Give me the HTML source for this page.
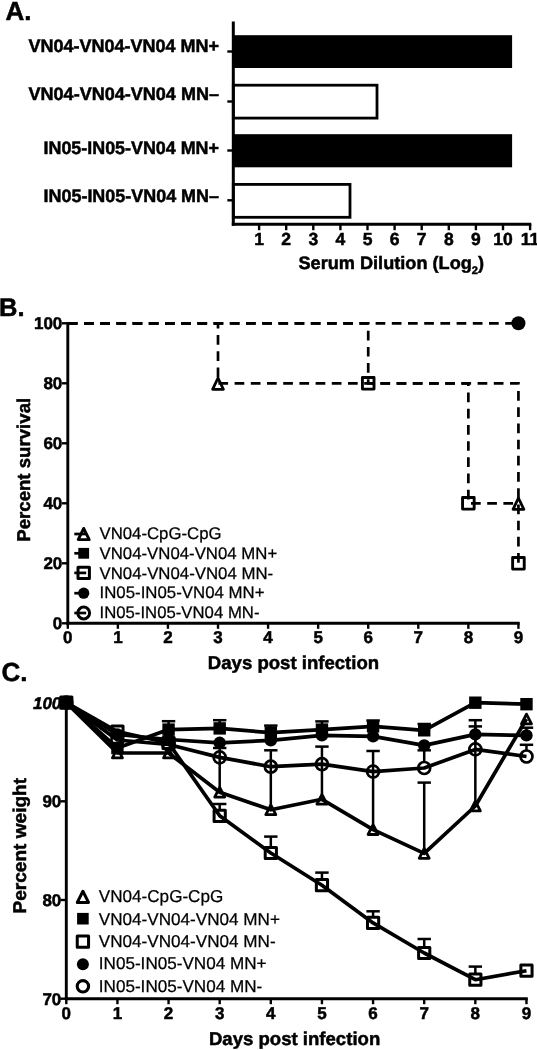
<!DOCTYPE html>
<html><head><meta charset="utf-8"><title>Figure</title>
<style>
html,body{margin:0;padding:0;background:#fff;}
body{width:537px;height:1050px;overflow:hidden;font-family:"Liberation Sans",sans-serif;}
svg{display:block;will-change:transform;filter:grayscale(1);}
text{text-rendering:geometricPrecision;}
</style></head>
<body>
<svg width="537" height="1050" viewBox="0 0 537 1050">
<rect width="537" height="1050" fill="#fff"/>
<g id="A" stroke="#000" fill="#000">
<rect x="233.3" y="35.2" width="278.8" height="32.8" stroke="none"/>
<rect x="233.3" y="134.2" width="278.8" height="33.1" stroke="none"/>
<rect x="233.3" y="85.2" width="143.7" height="32.9" fill="#fff" stroke-width="2.8"/>
<rect x="233.3" y="184.4" width="116.69999999999999" height="32.9" fill="#fff" stroke-width="2.8"/>
<line x1="233.30" y1="21.50" x2="233.30" y2="225.70" stroke-width="3.0" />
<line x1="231.80" y1="224.20" x2="531.30" y2="224.20" stroke-width="3.0" />
<line x1="259.10" y1="224.20" x2="259.10" y2="230.20" stroke-width="2.4" />
<line x1="286.20" y1="224.20" x2="286.20" y2="230.20" stroke-width="2.4" />
<line x1="313.30" y1="224.20" x2="313.30" y2="230.20" stroke-width="2.4" />
<line x1="340.40" y1="224.20" x2="340.40" y2="230.20" stroke-width="2.4" />
<line x1="367.50" y1="224.20" x2="367.50" y2="230.20" stroke-width="2.4" />
<line x1="394.60" y1="224.20" x2="394.60" y2="230.20" stroke-width="2.4" />
<line x1="421.70" y1="224.20" x2="421.70" y2="230.20" stroke-width="2.4" />
<line x1="448.80" y1="224.20" x2="448.80" y2="230.20" stroke-width="2.4" />
<line x1="475.90" y1="224.20" x2="475.90" y2="230.20" stroke-width="2.4" />
<line x1="503.00" y1="224.20" x2="503.00" y2="230.20" stroke-width="2.4" />
<line x1="530.10" y1="224.20" x2="530.10" y2="230.20" stroke-width="2.4" />
<line x1="227.30" y1="51.50" x2="233.30" y2="51.50" stroke-width="2.4" />
<line x1="227.30" y1="101.50" x2="233.30" y2="101.50" stroke-width="2.4" />
<line x1="227.30" y1="150.50" x2="233.30" y2="150.50" stroke-width="2.4" />
<line x1="227.30" y1="200.30" x2="233.30" y2="200.30" stroke-width="2.4" />
</g>
<g id="At" font-family="Liberation Sans, sans-serif" fill="#000" stroke="#000" stroke-width="0.5">
<text x="5.5" y="19.8" font-size="26" font-weight="bold" text-anchor="start" >A.</text>
<text x="219" y="51.9" font-size="18" font-weight="bold" text-anchor="end" textLength="190.5" lengthAdjust="spacingAndGlyphs" >VN04-VN04-VN04 MN+</text>
<text x="219" y="100.1" font-size="18" font-weight="bold" text-anchor="end" textLength="190.5" lengthAdjust="spacingAndGlyphs" >VN04-VN04-VN04 MN–</text>
<text x="219" y="154.2" font-size="18" font-weight="bold" text-anchor="end" textLength="175.5" lengthAdjust="spacingAndGlyphs" >IN05-IN05-VN04 MN+</text>
<text x="219" y="202.4" font-size="18" font-weight="bold" text-anchor="end" textLength="175.5" lengthAdjust="spacingAndGlyphs" >IN05-IN05-VN04 MN–</text>
<text x="259.1" y="244.6" font-size="17.5" font-weight="bold" text-anchor="middle" >1</text>
<text x="286.2" y="244.6" font-size="17.5" font-weight="bold" text-anchor="middle" >2</text>
<text x="313.3" y="244.6" font-size="17.5" font-weight="bold" text-anchor="middle" >3</text>
<text x="340.4" y="244.6" font-size="17.5" font-weight="bold" text-anchor="middle" >4</text>
<text x="367.5" y="244.6" font-size="17.5" font-weight="bold" text-anchor="middle" >5</text>
<text x="394.6" y="244.6" font-size="17.5" font-weight="bold" text-anchor="middle" >6</text>
<text x="421.70000000000005" y="244.6" font-size="17.5" font-weight="bold" text-anchor="middle" >7</text>
<text x="448.8" y="244.6" font-size="17.5" font-weight="bold" text-anchor="middle" >8</text>
<text x="475.9" y="244.6" font-size="17.5" font-weight="bold" text-anchor="middle" >9</text>
<text x="503.0" y="244.6" font-size="17.5" font-weight="bold" text-anchor="middle" >10</text>
<text x="530.1" y="244.6" font-size="17.5" font-weight="bold" text-anchor="middle" >11</text>
<text x="298.5" y="268.6" font-size="18" font-weight="bold" textLength="185.5" lengthAdjust="spacingAndGlyphs">Serum Dilution (Log<tspan font-size="11" dy="5">2</tspan><tspan dy="-5">)</tspan></text>
</g>
<g id="B" stroke="#000" fill="none">
<line x1="67.80" y1="322.00" x2="67.80" y2="624.70" stroke-width="2.9" />
<line x1="66.40" y1="623.30" x2="519.73" y2="623.30" stroke-width="2.9" />
<line x1="67.80" y1="623.30" x2="67.80" y2="628.80" stroke-width="2.4" />
<line x1="117.87" y1="623.30" x2="117.87" y2="628.80" stroke-width="2.4" />
<line x1="167.94" y1="623.30" x2="167.94" y2="628.80" stroke-width="2.4" />
<line x1="218.01" y1="623.30" x2="218.01" y2="628.80" stroke-width="2.4" />
<line x1="268.08" y1="623.30" x2="268.08" y2="628.80" stroke-width="2.4" />
<line x1="318.15" y1="623.30" x2="318.15" y2="628.80" stroke-width="2.4" />
<line x1="368.22" y1="623.30" x2="368.22" y2="628.80" stroke-width="2.4" />
<line x1="418.29" y1="623.30" x2="418.29" y2="628.80" stroke-width="2.4" />
<line x1="468.36" y1="623.30" x2="468.36" y2="628.80" stroke-width="2.4" />
<line x1="518.43" y1="623.30" x2="518.43" y2="628.80" stroke-width="2.4" />
<line x1="61.80" y1="623.30" x2="67.80" y2="623.30" stroke-width="2.4" />
<line x1="61.80" y1="563.30" x2="67.80" y2="563.30" stroke-width="2.4" />
<line x1="61.80" y1="503.30" x2="67.80" y2="503.30" stroke-width="2.4" />
<line x1="61.80" y1="443.30" x2="67.80" y2="443.30" stroke-width="2.4" />
<line x1="61.80" y1="383.30" x2="67.80" y2="383.30" stroke-width="2.4" />
<line x1="61.80" y1="323.30" x2="67.80" y2="323.30" stroke-width="2.4" />
<path d="M218.01 378.00 L223.41 389.30 L212.61 389.30 Z" fill="#fff" stroke-width="2.8" stroke-linejoin="round"/>
<rect x="362.42" y="377.50" width="11.6" height="11.6" fill="#fff" stroke-width="2.9" stroke-linejoin="round"/>
<rect x="462.56" y="497.50" width="11.6" height="11.6" fill="#fff" stroke-width="2.9" stroke-linejoin="round"/>
<rect x="512.63" y="557.50" width="11.6" height="11.6" fill="#fff" stroke-width="2.9" stroke-linejoin="round"/>
<path d="M518.43 498.00 L523.83 509.30 L513.03 509.30 Z" fill="#fff" stroke-width="2.8" stroke-linejoin="round"/>
<path d="M67.80 323.30 L518.43 323.30" stroke-dasharray="9.7 6.5" stroke-width="2.7" stroke-linejoin="miter" />
<path d="M67.80 323.30 L218.01 323.30 L218.01 383.30 L518.43 383.30 L518.43 503.30" stroke-dasharray="9.7 6.5" stroke-width="2.7" stroke-linejoin="miter" />
<path d="M67.80 323.30 L368.22 323.30 L368.22 383.30 L468.36 383.30 L468.36 503.30 L518.43 503.30 L518.43 563.30" stroke-dasharray="9.7 6.5" stroke-width="2.7" stroke-linejoin="miter" />
<circle cx="518.43" cy="323.30" r="7" fill="#000" stroke-width="0"/>
<path d="M83.70 528.40 L89.20 539.60 L78.20 539.60 Z" fill="#fff" stroke-width="2.9" stroke-linejoin="round"/>
<rect x="78.30" y="547.90" width="10.8" height="10.8" fill="#000" stroke-width="0" stroke-linejoin="round"/>
<rect x="78.00" y="567.20" width="11.4" height="11.4" fill="#fff" stroke-width="3.0" stroke-linejoin="round"/>
<circle cx="83.70" cy="593.20" r="5.6" fill="#000" stroke-width="0"/>
<circle cx="83.70" cy="613.00" r="5.9" fill="#fff" stroke-width="3.0"/>
<line x1="74.30" y1="534.00" x2="86.20" y2="534.00" stroke-width="2.7" />
<line x1="74.30" y1="553.30" x2="86.20" y2="553.30" stroke-width="2.7" />
<line x1="74.30" y1="572.90" x2="86.20" y2="572.90" stroke-width="2.7" />
<line x1="74.30" y1="593.20" x2="86.20" y2="593.20" stroke-width="2.7" />
<line x1="74.30" y1="613.00" x2="86.20" y2="613.00" stroke-width="2.7" />
</g>
<g id="Bt" font-family="Liberation Sans, sans-serif" fill="#000" stroke="#000" stroke-width="0.5">
<text x="-1" y="315.9" font-size="25.5" font-weight="bold" text-anchor="start" >B.</text>
<text x="62.3" y="629.3" font-size="17" font-weight="bold" text-anchor="end" >0</text>
<text x="62.3" y="569.3" font-size="17" font-weight="bold" text-anchor="end" >20</text>
<text x="62.3" y="509.29999999999995" font-size="17" font-weight="bold" text-anchor="end" >40</text>
<text x="62.3" y="449.29999999999995" font-size="17" font-weight="bold" text-anchor="end" >60</text>
<text x="62.3" y="389.29999999999995" font-size="17" font-weight="bold" text-anchor="end" >80</text>
<text x="62.3" y="329.29999999999995" font-size="17" font-weight="bold" text-anchor="end" >100</text>
<text x="67.8" y="643.2" font-size="17" font-weight="bold" text-anchor="middle" >0</text>
<text x="117.87" y="643.2" font-size="17" font-weight="bold" text-anchor="middle" >1</text>
<text x="167.94" y="643.2" font-size="17" font-weight="bold" text-anchor="middle" >2</text>
<text x="218.01" y="643.2" font-size="17" font-weight="bold" text-anchor="middle" >3</text>
<text x="268.08" y="643.2" font-size="17" font-weight="bold" text-anchor="middle" >4</text>
<text x="318.15" y="643.2" font-size="17" font-weight="bold" text-anchor="middle" >5</text>
<text x="368.22" y="643.2" font-size="17" font-weight="bold" text-anchor="middle" >6</text>
<text x="418.29" y="643.2" font-size="17" font-weight="bold" text-anchor="middle" >7</text>
<text x="468.36" y="643.2" font-size="17" font-weight="bold" text-anchor="middle" >8</text>
<text x="518.43" y="643.2" font-size="17" font-weight="bold" text-anchor="middle" >9</text>
<text x="293.5" y="669.3" font-size="18.5" font-weight="bold" text-anchor="middle" textLength="171.3" lengthAdjust="spacingAndGlyphs" >Days post infection</text>
<text transform="translate(29.8,469.8) rotate(-90)" font-size="18.5" font-weight="bold" text-anchor="middle" textLength="144" lengthAdjust="spacingAndGlyphs">Percent survival</text>
<text x="99.5" y="539.2" font-size="16.8" font-weight="normal" text-anchor="start" textLength="122" lengthAdjust="spacingAndGlyphs" stroke-width="0.25">VN04-CpG-CpG</text>
<text x="99.5" y="558.8" font-size="16.8" font-weight="normal" text-anchor="start" textLength="177.7" lengthAdjust="spacingAndGlyphs" stroke-width="0.25">VN04-VN04-VN04 MN+</text>
<text x="99.5" y="578.8" font-size="16.8" font-weight="normal" text-anchor="start" textLength="173.7" lengthAdjust="spacingAndGlyphs" stroke-width="0.25">VN04-VN04-VN04 MN-</text>
<text x="99.5" y="598.2" font-size="16.8" font-weight="normal" text-anchor="start" textLength="165" lengthAdjust="spacingAndGlyphs" stroke-width="0.25">IN05-IN05-VN04 MN+</text>
<text x="99.5" y="617.8" font-size="16.8" font-weight="normal" text-anchor="start" textLength="160" lengthAdjust="spacingAndGlyphs" stroke-width="0.25">IN05-IN05-VN04 MN-</text>
</g>
<g id="C" stroke="#000" fill="none">
<line x1="66.30" y1="701.30" x2="66.30" y2="1000.10" stroke-width="2.9" />
<line x1="64.90" y1="998.70" x2="527.77" y2="998.70" stroke-width="2.9" />
<line x1="66.30" y1="998.70" x2="66.30" y2="1004.20" stroke-width="2.4" />
<line x1="117.43" y1="998.70" x2="117.43" y2="1004.20" stroke-width="2.4" />
<line x1="168.56" y1="998.70" x2="168.56" y2="1004.20" stroke-width="2.4" />
<line x1="219.69" y1="998.70" x2="219.69" y2="1004.20" stroke-width="2.4" />
<line x1="270.82" y1="998.70" x2="270.82" y2="1004.20" stroke-width="2.4" />
<line x1="321.95" y1="998.70" x2="321.95" y2="1004.20" stroke-width="2.4" />
<line x1="373.08" y1="998.70" x2="373.08" y2="1004.20" stroke-width="2.4" />
<line x1="424.21" y1="998.70" x2="424.21" y2="1004.20" stroke-width="2.4" />
<line x1="475.34" y1="998.70" x2="475.34" y2="1004.20" stroke-width="2.4" />
<line x1="526.47" y1="998.70" x2="526.47" y2="1004.20" stroke-width="2.4" />
<line x1="60.30" y1="998.70" x2="66.30" y2="998.70" stroke-width="2.4" />
<line x1="60.30" y1="900.00" x2="66.30" y2="900.00" stroke-width="2.4" />
<line x1="60.30" y1="801.30" x2="66.30" y2="801.30" stroke-width="2.4" />
<line x1="60.30" y1="702.60" x2="66.30" y2="702.60" stroke-width="2.4" />
<line x1="219.69" y1="786.90" x2="219.69" y2="748.00" stroke-width="2.5" />
<line x1="212.99" y1="748.00" x2="226.39" y2="748.00" stroke-width="2.5" />
<line x1="270.82" y1="804.50" x2="270.82" y2="750.30" stroke-width="2.5" />
<line x1="264.12" y1="750.30" x2="277.52" y2="750.30" stroke-width="2.5" />
<line x1="321.95" y1="794.00" x2="321.95" y2="746.60" stroke-width="2.5" />
<line x1="315.25" y1="746.60" x2="328.65" y2="746.60" stroke-width="2.5" />
<line x1="373.08" y1="824.30" x2="373.08" y2="751.00" stroke-width="2.5" />
<line x1="366.38" y1="751.00" x2="379.78" y2="751.00" stroke-width="2.5" />
<line x1="424.21" y1="848.10" x2="424.21" y2="782.60" stroke-width="2.5" />
<line x1="417.51" y1="782.60" x2="430.91" y2="782.60" stroke-width="2.5" />
<line x1="475.34" y1="800.70" x2="475.34" y2="720.20" stroke-width="2.5" />
<line x1="468.64" y1="720.20" x2="482.04" y2="720.20" stroke-width="2.5" />
<path d="M66.30 702.60 L117.43 753.00 L168.56 753.00 L219.69 792.20 L270.82 809.80 L321.95 799.30 L373.08 829.60 L424.21 853.40 L475.34 806.00 L526.47 719.00" stroke-width="3.7" stroke-linejoin="round"/>
<path d="M66.30 697.69 L71.30 707.51 L61.30 707.51 Z" fill="none" stroke-width="2.8" stroke-linejoin="round"/>
<path d="M117.43 748.09 L122.43 757.91 L112.43 757.91 Z" fill="none" stroke-width="2.8" stroke-linejoin="round"/>
<path d="M168.56 748.09 L173.56 757.91 L163.56 757.91 Z" fill="none" stroke-width="2.8" stroke-linejoin="round"/>
<path d="M219.69 787.29 L224.69 797.11 L214.69 797.11 Z" fill="none" stroke-width="2.8" stroke-linejoin="round"/>
<path d="M270.82 804.89 L275.82 814.71 L265.82 814.71 Z" fill="none" stroke-width="2.8" stroke-linejoin="round"/>
<path d="M321.95 794.39 L326.95 804.21 L316.95 804.21 Z" fill="none" stroke-width="2.8" stroke-linejoin="round"/>
<path d="M373.08 824.69 L378.08 834.51 L368.08 834.51 Z" fill="none" stroke-width="2.8" stroke-linejoin="round"/>
<path d="M424.21 848.49 L429.21 858.31 L419.21 858.31 Z" fill="none" stroke-width="2.8" stroke-linejoin="round"/>
<path d="M475.34 801.09 L480.34 810.91 L470.34 810.91 Z" fill="none" stroke-width="2.8" stroke-linejoin="round"/>
<path d="M526.47 714.09 L531.47 723.91 L521.47 723.91 Z" fill="none" stroke-width="2.8" stroke-linejoin="round"/>
<line x1="168.56" y1="729.60" x2="168.56" y2="721.20" stroke-width="2.5" />
<line x1="161.86" y1="721.20" x2="175.26" y2="721.20" stroke-width="2.5" />
<line x1="219.69" y1="728.40" x2="219.69" y2="720.20" stroke-width="2.5" />
<line x1="212.99" y1="720.20" x2="226.39" y2="720.20" stroke-width="2.5" />
<line x1="270.82" y1="732.70" x2="270.82" y2="725.60" stroke-width="2.5" />
<line x1="264.12" y1="725.60" x2="277.52" y2="725.60" stroke-width="2.5" />
<line x1="321.95" y1="729.60" x2="321.95" y2="721.40" stroke-width="2.5" />
<line x1="315.25" y1="721.40" x2="328.65" y2="721.40" stroke-width="2.5" />
<line x1="373.08" y1="726.30" x2="373.08" y2="720.50" stroke-width="2.5" />
<line x1="366.38" y1="720.50" x2="379.78" y2="720.50" stroke-width="2.5" />
<line x1="424.21" y1="730.30" x2="424.21" y2="724.00" stroke-width="2.5" />
<line x1="417.51" y1="724.00" x2="430.91" y2="724.00" stroke-width="2.5" />
<path d="M66.30 702.60 L117.43 748.00 L168.56 729.60 L219.69 728.40 L270.82 732.70 L321.95 729.60 L373.08 726.30 L424.21 730.30 L475.34 702.70 L526.47 704.20" stroke-width="3.7" stroke-linejoin="round"/>
<rect x="60.10" y="696.40" width="12.4" height="12.4" fill="#000" stroke-width="0" stroke-linejoin="round"/>
<rect x="111.23" y="741.80" width="12.4" height="12.4" fill="#000" stroke-width="0" stroke-linejoin="round"/>
<rect x="162.36" y="723.40" width="12.4" height="12.4" fill="#000" stroke-width="0" stroke-linejoin="round"/>
<rect x="213.49" y="722.20" width="12.4" height="12.4" fill="#000" stroke-width="0" stroke-linejoin="round"/>
<rect x="264.62" y="726.50" width="12.4" height="12.4" fill="#000" stroke-width="0" stroke-linejoin="round"/>
<rect x="315.75" y="723.40" width="12.4" height="12.4" fill="#000" stroke-width="0" stroke-linejoin="round"/>
<rect x="366.88" y="720.10" width="12.4" height="12.4" fill="#000" stroke-width="0" stroke-linejoin="round"/>
<rect x="418.01" y="724.10" width="12.4" height="12.4" fill="#000" stroke-width="0" stroke-linejoin="round"/>
<rect x="469.14" y="696.50" width="12.4" height="12.4" fill="#000" stroke-width="0" stroke-linejoin="round"/>
<rect x="520.27" y="698.00" width="12.4" height="12.4" fill="#000" stroke-width="0" stroke-linejoin="round"/>
<line x1="219.69" y1="810.20" x2="219.69" y2="804.00" stroke-width="2.5" />
<line x1="212.99" y1="804.00" x2="226.39" y2="804.00" stroke-width="2.5" />
<line x1="270.82" y1="847.40" x2="270.82" y2="836.60" stroke-width="2.5" />
<line x1="264.12" y1="836.60" x2="277.52" y2="836.60" stroke-width="2.5" />
<line x1="321.95" y1="879.60" x2="321.95" y2="872.60" stroke-width="2.5" />
<line x1="315.25" y1="872.60" x2="328.65" y2="872.60" stroke-width="2.5" />
<line x1="373.08" y1="917.30" x2="373.08" y2="911.30" stroke-width="2.5" />
<line x1="366.38" y1="911.30" x2="379.78" y2="911.30" stroke-width="2.5" />
<line x1="424.21" y1="947.40" x2="424.21" y2="939.00" stroke-width="2.5" />
<line x1="417.51" y1="939.00" x2="430.91" y2="939.00" stroke-width="2.5" />
<line x1="475.34" y1="974.10" x2="475.34" y2="966.60" stroke-width="2.5" />
<line x1="468.64" y1="966.60" x2="482.04" y2="966.60" stroke-width="2.5" />
<path d="M66.30 702.60 L117.43 731.50 L168.56 743.00 L219.69 815.80 L270.82 853.00 L321.95 885.20 L373.08 922.90 L424.21 953.00 L475.34 979.70 L526.47 970.70" stroke-width="3.7" stroke-linejoin="round"/>
<rect x="60.70" y="697.00" width="11.2" height="11.2" fill="none" stroke-width="3.0" stroke-linejoin="round"/>
<rect x="111.83" y="725.90" width="11.2" height="11.2" fill="none" stroke-width="3.0" stroke-linejoin="round"/>
<rect x="162.96" y="737.40" width="11.2" height="11.2" fill="none" stroke-width="3.0" stroke-linejoin="round"/>
<rect x="214.09" y="810.20" width="11.2" height="11.2" fill="none" stroke-width="3.0" stroke-linejoin="round"/>
<rect x="265.22" y="847.40" width="11.2" height="11.2" fill="none" stroke-width="3.0" stroke-linejoin="round"/>
<rect x="316.35" y="879.60" width="11.2" height="11.2" fill="none" stroke-width="3.0" stroke-linejoin="round"/>
<rect x="367.48" y="917.30" width="11.2" height="11.2" fill="none" stroke-width="3.0" stroke-linejoin="round"/>
<rect x="418.61" y="947.40" width="11.2" height="11.2" fill="none" stroke-width="3.0" stroke-linejoin="round"/>
<rect x="469.74" y="974.10" width="11.2" height="11.2" fill="none" stroke-width="3.0" stroke-linejoin="round"/>
<rect x="520.87" y="965.10" width="11.2" height="11.2" fill="none" stroke-width="3.0" stroke-linejoin="round"/>
<line x1="526.47" y1="735.40" x2="526.47" y2="727.70" stroke-width="2.5" />
<line x1="519.77" y1="727.70" x2="533.17" y2="727.70" stroke-width="2.5" />
<path d="M66.30 702.60 L117.43 734.50 L168.56 739.50 L219.69 742.80 L270.82 740.40 L321.95 735.30 L373.08 736.40 L424.21 745.40 L475.34 734.40 L526.47 735.40" stroke-width="3.7" stroke-linejoin="round"/>
<circle cx="66.30" cy="702.60" r="6.2" fill="#000" stroke-width="0"/>
<circle cx="117.43" cy="734.50" r="6.2" fill="#000" stroke-width="0"/>
<circle cx="168.56" cy="739.50" r="6.2" fill="#000" stroke-width="0"/>
<circle cx="219.69" cy="742.80" r="6.2" fill="#000" stroke-width="0"/>
<circle cx="270.82" cy="740.40" r="6.2" fill="#000" stroke-width="0"/>
<circle cx="321.95" cy="735.30" r="6.2" fill="#000" stroke-width="0"/>
<circle cx="373.08" cy="736.40" r="6.2" fill="#000" stroke-width="0"/>
<circle cx="424.21" cy="745.40" r="6.2" fill="#000" stroke-width="0"/>
<circle cx="475.34" cy="734.40" r="6.2" fill="#000" stroke-width="0"/>
<circle cx="526.47" cy="735.40" r="6.2" fill="#000" stroke-width="0"/>
<line x1="424.21" y1="762.00" x2="424.21" y2="750.30" stroke-width="2.5" />
<line x1="417.51" y1="750.30" x2="430.91" y2="750.30" stroke-width="2.5" />
<line x1="475.34" y1="743.40" x2="475.34" y2="726.40" stroke-width="2.5" />
<line x1="468.64" y1="726.40" x2="482.04" y2="726.40" stroke-width="2.5" />
<line x1="526.47" y1="750.50" x2="526.47" y2="744.80" stroke-width="2.5" />
<line x1="519.77" y1="744.80" x2="533.17" y2="744.80" stroke-width="2.5" />
<path d="M66.30 702.60 L117.43 740.00 L168.56 744.50 L219.69 757.40 L270.82 766.70 L321.95 764.20 L373.08 771.60 L424.21 768.00 L475.34 749.40 L526.47 756.50" stroke-width="3.7" stroke-linejoin="round"/>
<circle cx="66.30" cy="702.60" r="6.0" fill="none" stroke-width="2.7"/>
<circle cx="117.43" cy="740.00" r="6.0" fill="none" stroke-width="2.7"/>
<circle cx="168.56" cy="744.50" r="6.0" fill="none" stroke-width="2.7"/>
<circle cx="219.69" cy="757.40" r="6.0" fill="none" stroke-width="2.7"/>
<circle cx="270.82" cy="766.70" r="6.0" fill="none" stroke-width="2.7"/>
<circle cx="321.95" cy="764.20" r="6.0" fill="none" stroke-width="2.7"/>
<circle cx="373.08" cy="771.60" r="6.0" fill="none" stroke-width="2.7"/>
<circle cx="424.21" cy="768.00" r="6.0" fill="none" stroke-width="2.7"/>
<circle cx="475.34" cy="749.40" r="6.0" fill="none" stroke-width="2.7"/>
<circle cx="526.47" cy="756.50" r="6.0" fill="none" stroke-width="2.7"/>
<path d="M82.90 891.28 L88.50 902.38 L77.30 902.38 Z" fill="none" stroke-width="3.0" stroke-linejoin="round"/>
<rect x="77.10" y="912.90" width="11.6" height="11.6" fill="#000" stroke-width="0" stroke-linejoin="round"/>
<rect x="77.25" y="936.05" width="11.3" height="11.3" fill="none" stroke-width="3.0" stroke-linejoin="round"/>
<circle cx="82.90" cy="964.30" r="6.0" fill="#000" stroke-width="0"/>
<circle cx="82.90" cy="986.30" r="5.7" fill="none" stroke-width="3.1"/>
</g>
<g id="Ct" font-family="Liberation Sans, sans-serif" fill="#000" stroke="#000" stroke-width="0.5">
<text x="1.5" y="681.3" font-size="26" font-weight="bold" text-anchor="start" >C.</text>
<text x="61.3" y="708.6" font-size="17" font-weight="bold" font-style="italic" text-anchor="end">100</text>
<text x="61.3" y="1004.7" font-size="17" font-weight="bold" text-anchor="end" >70</text>
<text x="61.3" y="906.0" font-size="17" font-weight="bold" text-anchor="end" >80</text>
<text x="61.3" y="807.3" font-size="17" font-weight="bold" text-anchor="end" >90</text>
<text x="66.3" y="1019.2" font-size="17" font-weight="bold" text-anchor="middle" >0</text>
<text x="117.43" y="1019.2" font-size="17" font-weight="bold" text-anchor="middle" >1</text>
<text x="168.56" y="1019.2" font-size="17" font-weight="bold" text-anchor="middle" >2</text>
<text x="219.69" y="1019.2" font-size="17" font-weight="bold" text-anchor="middle" >3</text>
<text x="270.82" y="1019.2" font-size="17" font-weight="bold" text-anchor="middle" >4</text>
<text x="321.95" y="1019.2" font-size="17" font-weight="bold" text-anchor="middle" >5</text>
<text x="373.08000000000004" y="1019.2" font-size="17" font-weight="bold" text-anchor="middle" >6</text>
<text x="424.21000000000004" y="1019.2" font-size="17" font-weight="bold" text-anchor="middle" >7</text>
<text x="475.34000000000003" y="1019.2" font-size="17" font-weight="bold" text-anchor="middle" >8</text>
<text x="526.47" y="1019.2" font-size="17" font-weight="bold" text-anchor="middle" >9</text>
<text x="294.6" y="1044.8" font-size="18.5" font-weight="bold" text-anchor="middle" textLength="171.3" lengthAdjust="spacingAndGlyphs" >Days post infection</text>
<text transform="translate(25.8,845.7) rotate(-90)" font-size="18.5" font-weight="bold" text-anchor="middle" textLength="135.5" lengthAdjust="spacingAndGlyphs">Percent weight</text>
<text x="98.8" y="902.2" font-size="17.1" font-weight="normal" text-anchor="start" textLength="124.5" lengthAdjust="spacingAndGlyphs" stroke-width="0.25">VN04-CpG-CpG</text>
<text x="98.8" y="924.5" font-size="17.1" font-weight="normal" text-anchor="start" textLength="181.1" lengthAdjust="spacingAndGlyphs" stroke-width="0.25">VN04-VN04-VN04 MN+</text>
<text x="98.8" y="947" font-size="17.1" font-weight="normal" text-anchor="start" textLength="176.8" lengthAdjust="spacingAndGlyphs" stroke-width="0.25">VN04-VN04-VN04 MN-</text>
<text x="98.8" y="969" font-size="17.1" font-weight="normal" text-anchor="start" textLength="167.8" lengthAdjust="spacingAndGlyphs" stroke-width="0.25">IN05-IN05-VN04 MN+</text>
<text x="98.8" y="992" font-size="17.1" font-weight="normal" text-anchor="start" textLength="163.5" lengthAdjust="spacingAndGlyphs" stroke-width="0.25">IN05-IN05-VN04 MN-</text>
</g>
</svg>
</body></html>
